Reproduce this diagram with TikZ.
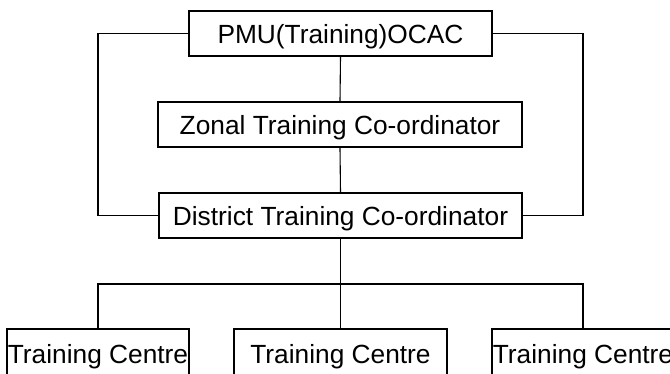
\documentclass[tikz,border=0pt]{standalone}
\usepackage{fontspec}
\setmainfont{Liberation Sans}
\begin{document}
\begin{tikzpicture}[x=1pt,y=-1pt,
  box/.style={draw=black,line width=1.1pt,fill=white,inner sep=0pt,minimum height=45pt,
    text height=19.5pt,text depth=0pt,
    font=\fontsize{26.3}{30}\selectfont,text=black},
  tcbox/.style={box,minimum height=49pt},
  link/.style={draw=black,line width=1.1pt}]
\useasboundingbox[fill=white] (0,0) rectangle (670,374);
\node[box,minimum width=303pt] (pmu) at (340.5,33.5) {PMU(Training)OCAC};
\node[box,minimum width=364pt] (zon) at (340,124.5) {Zonal Training Co-ordinator};
\node[box,minimum width=363pt] (dis) at (340.5,215.5) {District Training Co-ordinator};
\node[tcbox,minimum width=182pt] (tc1) at (98,353.5) {Training Centre};
\node[tcbox,minimum width=213pt] (tc2) at (340.5,353.5) {Training Centre};
\node[tcbox,minimum width=182pt] (tc3) at (583,353.5) {Training Centre};
\coordinate (jn) at (340.5,284);
\draw[link] (pmu.south) -- (zon.north);
\draw[link] (zon.south) -- (dis.north);
\draw[link] (pmu.west) -- (98,33.5) |- (dis.west);
\draw[link] (pmu.east) -- (583,33.5) |- (dis.east);
\draw[link] (dis.south) -- (jn);
\draw[link] (tc1.north) |- (jn) -| (tc3.north);
\draw[link] (jn) -- (tc2.north);
\end{tikzpicture}
\end{document}
